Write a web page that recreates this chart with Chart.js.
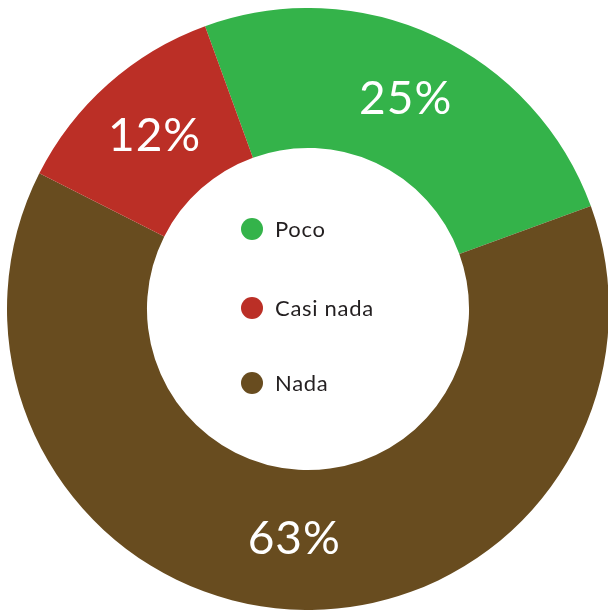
<!DOCTYPE html>
<html>
<head>
<meta charset="utf-8">
<script src="https://cdn.jsdelivr.net/npm/chart.js@4.4.1/dist/chart.umd.min.js"></script>
<style>
  html, body { margin: 0; padding: 0; width: 608px; height: 611px; overflow: hidden; background: #ffffff; }
  #wrap { position: absolute; left: 7px; top: 8px; width: 602px; height: 602px; }
</style>
</head>
<body>
<div id="wrap"><canvas id="c"></canvas></div>
<script>
// ---- data ----
const categories = ['Poco', 'Casi nada', 'Nada'];
const values = [25, 12, 63];
const valueLabels = ['25%', '12%', '63%'];
const colors = ['#34B34A', '#BB2F26', '#684C1F'];
// slices run clockwise as Poco, Nada, Casi nada in the reference
const drawOrder = [0, 2, 1];

const LABEL_FONT = '"Lato", "Open Sans", "DejaVu Sans", sans-serif';

const centerLegend = {
  id: 'centerLegend',
  afterDraw(chart) {
    const ctx = chart.ctx;
    const meta = chart.getDatasetMeta(0);
    // value labels on slices
    ctx.save();
    ctx.fillStyle = '#ffffff';
    ctx.font = '400 46px ' + LABEL_FONT;
    ctx.letterSpacing = '1px';
    ctx.textAlign = 'center';
    ctx.textBaseline = 'middle';
    meta.data.forEach((arc, i) => {
      const p = arc.tooltipPosition();
      ctx.fillText(chart.data.datasets[0].valueText[i], p.x, p.y);
    });
    ctx.restore();

    // legend in the hole
    const cx = meta.data[0].x, cy = meta.data[0].y;
    const rows = [cy - 80, cy - 1, cy + 74];
    ctx.save();
    ctx.font = '400 22px ' + LABEL_FONT;
    ctx.letterSpacing = '0.7px';
    ctx.textAlign = 'left';
    ctx.textBaseline = 'middle';
    categories.forEach((name, i) => {
      const y = rows[i];
      ctx.beginPath();
      ctx.arc(cx - 56, y, 11, 0, Math.PI * 2);
      ctx.fillStyle = colors[i];
      ctx.fill();
      ctx.fillStyle = '#231f20';
      ctx.fillText(name, cx - 33, y + 1);
    });
    ctx.restore();
  }
};

new Chart(document.getElementById('c'), {
  type: 'doughnut',
  data: {
    labels: drawOrder.map(i => categories[i]),
    datasets: [{
      data: drawOrder.map(i => values[i]),
      valueText: drawOrder.map(i => valueLabels[i]),
      backgroundColor: drawOrder.map(i => colors[i]),
      borderWidth: 0
    }]
  },
  options: {
    responsive: true,
    maintainAspectRatio: false,
    animation: false,
    rotation: -20,
    cutout: '53.5%',
    layout: { padding: 0 },
    plugins: {
      legend: { display: false },
      tooltip: { enabled: false }
    }
  },
  plugins: [centerLegend]
});
</script>
</body>
</html>
